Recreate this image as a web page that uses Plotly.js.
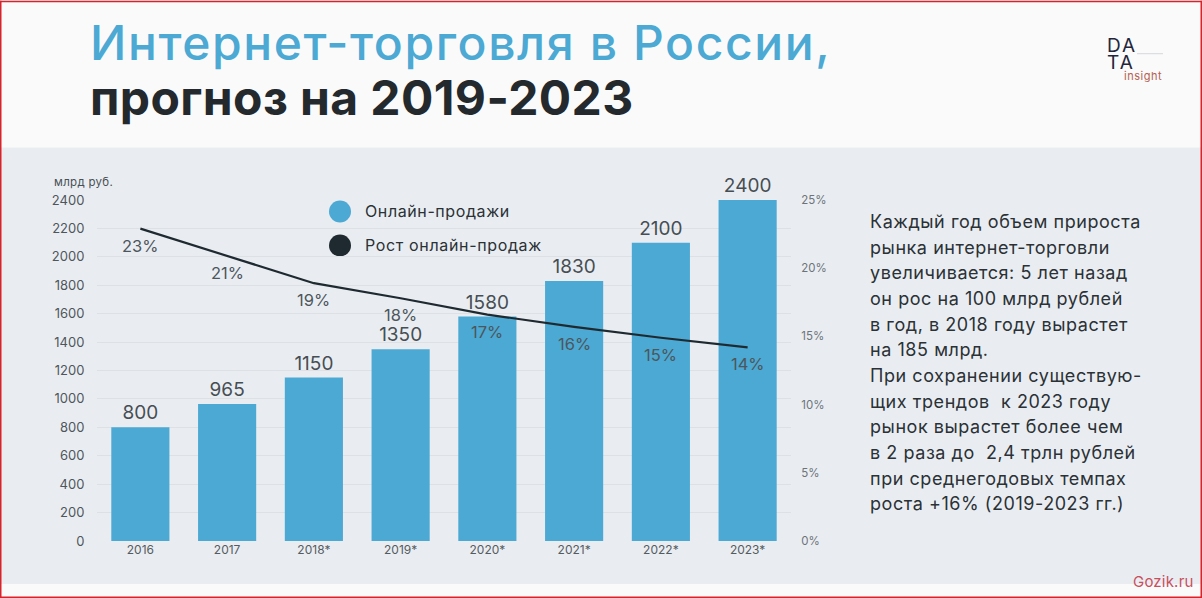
<!DOCTYPE html>
<html>
<head>
<meta charset="utf-8">
<script src="https://cdn.plot.ly/plotly-3.0.1.min.js"></script>
<style>
    html, body { margin: 0; padding: 0; background: #fafafb; }
    #chart { width: 1202px; height: 598px; }
</style>
</head>
<body>
<div id="chart"></div>
<script>
let years = ['2016', '2017', '2018*', '2019*', '2020*', '2021*', '2022*', '2023*'];
let sales = [800, 965, 1150, 1350, 1580, 1830, 2100, 2400];
let growth = [22.9, 20.9, 18.9, 17.8, 16.6, 15.7, 14.9, 14.2];
let growthLabels = ['23%', '21%', '19%', '18%', '17%', '16%', '15%', '14%'];
let salesTicks = [0, 200, 400, 600, 800, 1000, 1200, 1400, 1600, 1800, 2000, 2200, 2400];
let growthTicks = [0, 5, 10, 15, 20, 25];
let sideText = [
    'Каждый год объем прироста',
    'рынка интернет-торговли',
    'увеличивается: 5 лет назад',
    'он рос на 100 млрд рублей',
    'в год, в 2018 году вырастет',
    'на 185 млрд.',
    'При сохранении существую-',
    'щих трендов  к 2023 году',
    'рынок вырастет более чем',
    'в 2 раза до  2,4 трлн рублей',
    'при среднегодовых темпах',
    'роста +16% (2019-2023 гг.)'
];

let W = 1202;
let H = 598;
let left = 97;
let right = 791;
let top_ = 199.5;
let bottom = 541;
let font = 'Inter, sans-serif';

// page pixels to plot fractions, everything outside the plot is placed this way
let fx = function (x) { return (x - left) / (right - left); };
let fy = function (y) { return (bottom - y) / (bottom - top_); };

let pageText = function (x, y, text, size, color, spacing, weight) {
    return {
        xref: 'paper', yref: 'paper', x: fx(x - 2), y: fy(y),
        text: '<span style="letter-spacing:' + (spacing || 0) + 'px">' + text + '</span>',
        showarrow: false, xanchor: 'left', yanchor: 'middle',
        font: { family: font, size: size, color: color, weight: weight || 400 }
    };
};

let pageRect = function (x0, y0, x1, y1, fill, type) {
    return {
        type: type || 'rect', xref: 'paper', yref: 'paper', layer: 'below',
        x0: fx(x0), x1: fx(x1), y0: fy(y0), y1: fy(y1),
        fillcolor: fill, line: { width: 0 }
    };
};

let salesData = {
    x: years,
    y: sales,
    type: 'bar',
    width: 0.67,
    marker: { color: '#4ba9d3' },
    text: sales.map(String),
    textposition: 'outside',
    textfont: { family: font, size: 19, color: '#474e53' },
    cliponaxis: false
};

let growthData = {
    x: years,
    y: growth,
    yaxis: 'y2',
    type: 'scatter',
    mode: 'lines',
    line: { color: '#1f2a30', width: 2.2 }
};

// category axis: annotations go by index, '2016' would be read as a number
let annotations = growthLabels.map(function (label, i) {
    return {
        x: i, y: growth[i], yref: 'y2', yshift: -17,
        text: label, showarrow: false,
        font: { family: font, size: 16.5, color: '#4d565c' }
    };
});

sideText.forEach(function (line, i) {
    annotations.push(pageText(870, 221 + i * 25.7, line, 18, '#2b3135', 0.55));
});

annotations.push(
    pageText(90, 42, 'Интернет-торговля в России,', 48, '#4ba9d3', 1.6, 500),
    pageText(90, 97, 'прогноз на 2019-2023', 48, '#23292d', 0.4, 700),
    pageText(54, 181, 'млрд руб.', 11.5, '#4a5055', 0.3),
    pageText(365, 211, 'Онлайн-продажи', 16, '#2b3135', 0.6),
    pageText(365, 245, 'Рост онлайн-продаж', 16, '#2b3135', 0.65),
    pageText(1107, 45, 'DA', 19, '#23263a', 2),
    pageText(1107, 62, 'TA', 19, '#23263a', 2),
    pageText(1124, 75.5, 'insight', 11, '#b5604f', 0.5),
    pageText(1133, 582, 'Gozik.ru', 15, '#c8505c', 0.2)
);

let shapes = [
    pageRect(0, 147, W, 584, '#e9edf2'),
    pageRect(329, 200, 351, 222, '#4ba9d3', 'circle'),
    pageRect(329, 234, 351, 256, '#1f2a30', 'circle'),
    pageRect(1137, 52.5, 1163, 53.5, '#d5d7da'),
    // red frame of the picture
    pageRect(0, 0, W, 1.5, '#d8232a'),
    pageRect(0, H - 1.5, W, H, '#d8232a'),
    pageRect(0, 0, 1.5, H, '#d8232a'),
    pageRect(W - 1.5, 0, W, H, '#d8232a')
];

let layout = {
    width: W,
    height: H,
    margin: { l: left, r: W - right, t: top_, b: H - bottom, pad: 0 },
    paper_bgcolor: '#fafafb',
    plot_bgcolor: 'rgba(0,0,0,0)',
    showlegend: false,
    hovermode: false,
    xaxis: {
        type: 'category',
        range: [-0.5, 7.5],
        ticks: '',
        showgrid: false,
        zeroline: false,
        tickfont: { family: font, size: 12, color: '#555c61' }
    },
    yaxis: {
        range: [0, 2400],
        tickvals: salesTicks,
        ticks: 'outside',
        ticklen: 9,
        tickcolor: 'rgba(0,0,0,0)',
        gridcolor: '#dde1e6',
        gridwidth: 1,
        zeroline: false,
        tickfont: { family: font, size: 13, color: '#4f565b' }
    },
    yaxis2: {
        overlaying: 'y',
        side: 'right',
        range: [0, 25],
        tickvals: growthTicks,
        ticktext: growthTicks.map(function (t) { return t + '%'; }),
        ticks: 'outside',
        ticklen: 7,
        tickcolor: 'rgba(0,0,0,0)',
        showgrid: false,
        zeroline: false,
        tickfont: { family: font, size: 11.5, color: '#6d7479' }
    },
    annotations: annotations,
    shapes: shapes
};

Plotly.newPlot('chart', [salesData, growthData], layout, { displayModeBar: false });
</script>
</body>
</html>
